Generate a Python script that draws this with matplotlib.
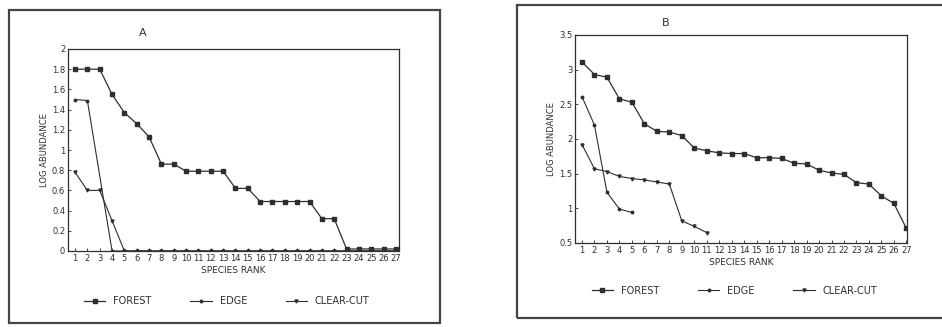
import numpy as np
import matplotlib.pyplot as plt
from matplotlib.patches import Rectangle

# --- Data ---
ranks = list(range(1, 28))

# Panel A
forest_a = [1.80, 1.80, 1.80, 1.55, 1.37, 1.26, 1.13, 0.86, 0.86, 0.79, 0.79, 0.79, 0.79,
            0.62, 0.62, 0.49, 0.49, 0.49, 0.49, 0.49, 0.32, 0.32, 0.02, 0.02, 0.02, 0.02, 0.02]
edge_a_rank = [1, 2] + list(range(4, 28))
edge_a = [1.50, 1.49] + [0.0] * 24
clear_a_rank = list(range(1, 28))
clear_a = [0.78, 0.60, 0.60, 0.30] + [0.0] * 23

# Panel B
forest_b = [3.11, 2.93, 2.89, 2.58, 2.53, 2.22, 2.11, 2.10, 2.05, 1.87, 1.83, 1.80, 1.79,
            1.79, 1.73, 1.73, 1.72, 1.65, 1.64, 1.55, 1.51, 1.49, 1.37, 1.35, 1.18, 1.07, 0.71]
edge_b_rank = [1, 2, 3, 4, 5]
edge_b = [2.61, 2.20, 1.23, 0.99, 0.94]
clear_b_rank = list(range(1, 12))
clear_b = [1.92, 1.57, 1.53, 1.46, 1.43, 1.41, 1.38, 1.35, 0.82, 0.74, 0.65]

INK = '#2e2e2e'
plt.rcParams['font.family'] = 'DejaVu Sans'

fig = plt.figure(figsize=(9.42, 3.27), dpi=100)
W, H = 942, 327

def px_axes(left, top, right, bottom):
    return fig.add_axes([left / W, 1 - bottom / H, (right - left) / W, (bottom - top) / H])

def frame(left, top, right, bottom, lw=1.6):
    fig.patches.append(Rectangle((left / W, 1 - bottom / H), (right - left) / W, (bottom - top) / H,
                                 transform=fig.transFigure, fill=False, edgecolor='#444444',
                                 linewidth=lw))

def style(ax, ylim, yticks, ylabels, xlim):
    ax.set_xlim(*xlim)
    ax.set_ylim(*ylim)
    ax.set_xticks(ranks)
    ax.set_xticklabels([str(r) for r in ranks], fontsize=6, color=INK)
    ax.set_yticks(yticks)
    ax.set_yticklabels(ylabels, fontsize=6, color=INK)
    ax.tick_params(axis='both', direction='in', length=2, width=0.6, pad=2, colors=INK)
    for s in ax.spines.values():
        s.set_linewidth(0.9)
        s.set_color(INK)
    ax.set_xlabel('SPECIES RANK', fontsize=6.5, color=INK, labelpad=2)
    ax.set_ylabel('LOG ABUNDANCE', fontsize=6, color=INK, labelpad=2)

# outer boxes
frame(9, 10, 440, 323)
frame(517, 5, 960, 318)

# ============================================================
# Panel A
# ============================================================
ax1 = px_axes(68, 49, 399, 251)
ax1.plot(ranks, forest_a, color=INK, lw=0.9, marker='s', ms=3.5, label='FOREST')
ax1.plot(edge_a_rank, edge_a, color=INK, lw=0.8, marker='o', ms=1.8, label='EDGE')
ax1.plot(clear_a_rank, clear_a, color=INK, lw=0.8, marker='v', ms=2.2, label='CLEAR-CUT')
style(ax1, (0, 2), np.arange(0, 2.01, 0.2),
      ['0', '0.2', '0.4', '0.6', '0.8', '1', '1.2', '1.4', '1.6', '1.8', '2'], (0.43, 27.25))
ax1.legend(loc='center', bbox_to_anchor=(0.48, -0.25), ncol=3, frameon=False, fontsize=7,
           handlelength=2.2, columnspacing=4.0, labelcolor=INK)
fig.text(143 / W, 1 - 33 / H, 'A', fontsize=8, color=INK, ha='center', va='center')

# ============================================================
# Panel B
# ============================================================
ax2 = px_axes(575, 35, 907, 243)
ax2.plot(ranks, forest_b, color=INK, lw=0.9, marker='s', ms=3.5, label='FOREST')
ax2.plot(edge_b_rank, edge_b, color=INK, lw=0.8, marker='o', ms=1.8, label='EDGE')
ax2.plot(clear_b_rank, clear_b, color=INK, lw=0.8, marker='v', ms=2.2, label='CLEAR-CUT')
style(ax2, (0.5, 3.5), [0.5, 1, 1.5, 2, 2.5, 3, 3.5],
      ['0.5', '1', '1.5', '2', '2.5', '3', '3.5'], (0.44, 27.05))
ax2.legend(loc='center', bbox_to_anchor=(0.48, -0.23), ncol=3, frameon=False, fontsize=7,
           handlelength=2.2, columnspacing=4.0, labelcolor=INK)
fig.text(666 / W, 1 - 23 / H, 'B', fontsize=8, color=INK, ha='center', va='center')

plt.savefig('out.png', dpi=100)
